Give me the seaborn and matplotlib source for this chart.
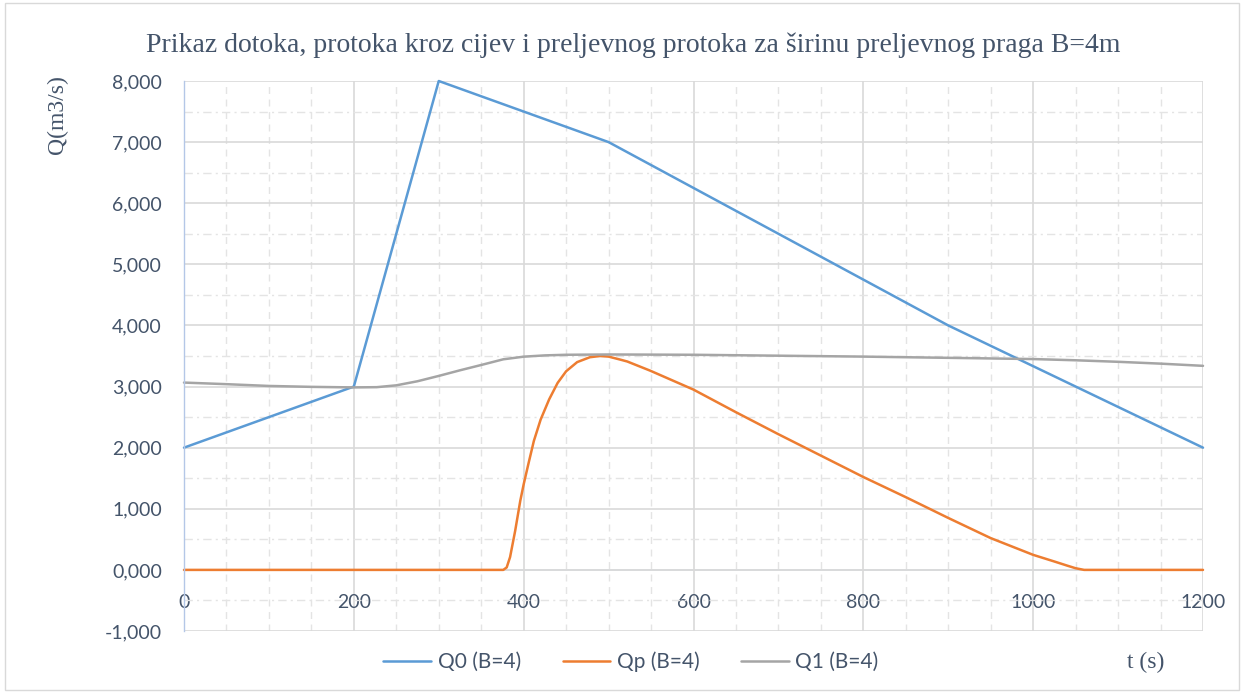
import matplotlib
matplotlib.use("Agg")
import matplotlib.pyplot as plt
from matplotlib.ticker import MultipleLocator, FuncFormatter
from matplotlib.lines import Line2D
from matplotlib.patches import Rectangle
import seaborn as sns
import pandas as pd

# ---- data (t in s, Q in m3/s) ----
t_q0 = [0, 200, 300, 500, 900, 1200]
q0 = [2.0, 3.0, 8.0, 7.0, 4.0, 2.0]

t_qp = [0, 370, 376, 380, 384, 390, 396, 400, 406, 412, 420, 430, 440, 450,
        463, 478, 490, 500, 514, 522, 549, 600, 650, 700, 750, 800, 850,
        900, 950, 1000, 1025, 1040, 1050, 1060, 1200]
qp = [0.0, 0.0, 0.0, 0.04, 0.21, 0.64, 1.13, 1.40, 1.76, 2.11, 2.46, 2.79, 3.06, 3.25,
      3.40, 3.48, 3.50, 3.49, 3.44, 3.41, 3.26, 2.95, 2.58, 2.22, 1.87, 1.52, 1.19,
      0.85, 0.52, 0.246, 0.137, 0.07, 0.027, 0.0, 0.0]

t_q1 = [0, 50, 100, 150, 200, 227, 250, 275, 300, 325, 350, 376, 400, 425, 450, 500,
        600, 700, 800, 900, 1000, 1050, 1100, 1150, 1200]
q1 = [3.065, 3.039, 3.01, 2.995, 2.986, 2.99, 3.02, 3.087, 3.174, 3.266, 3.353, 3.446,
      3.489, 3.51, 3.52, 3.525, 3.52, 3.505, 3.49, 3.47, 3.45, 3.43, 3.405, 3.375, 3.339]

series_names = ["Q0 (B=4)", "Qp (B=4)", "Q1 (B=4)"]
colors = ["#5B9BD5", "#ED7D31", "#A5A5A5"]
x_ticks = [0, 200, 400, 600, 800, 1000, 1200]

title = "Prikaz dotoka, protoka kroz cijev i preljevnog protoka za širinu preljevnog praga B=4m"
y_label = "Q(m3/s)"
x_label = "t (s)"

# ---- figure ----
sns.set_theme(style="white")
plt.rcParams["font.family"] = ["Lato", "DejaVu Sans"]
text_col = "#44546A"
serif = ["Liberation Serif", "DejaVu Serif"]

fig = plt.figure(figsize=(12.44, 6.93), dpi=100)
ax = fig.add_axes([184 / 1244, 1 - 631 / 693, (1203 - 184) / 1244, (631 - 81) / 693])

df = pd.concat([
    pd.DataFrame({"t": t_q0, "Q": q0, "serija": series_names[0]}),
    pd.DataFrame({"t": t_qp, "Q": qp, "serija": series_names[1]}),
    pd.DataFrame({"t": t_q1, "Q": q1, "serija": series_names[2]}),
], ignore_index=True)

sns.lineplot(data=df, x="t", y="Q", hue="serija", palette=colors,
             estimator=None, sort=False, linewidth=1.8, legend=False, ax=ax)
for ln in ax.lines:
    ln.set_clip_on(False)
    ln.set_solid_joinstyle("round")

ax.set_xlim(0, 1200)
ax.set_ylim(-1, 8)
ax.set_xticks(x_ticks)
ax.set_xticklabels([str(v) for v in x_ticks])
ax.yaxis.set_major_locator(MultipleLocator(1))
ax.yaxis.set_major_formatter(FuncFormatter(lambda v, p: f"{v:.3f}".replace(".", ",")))
ax.xaxis.set_minor_locator(MultipleLocator(50))
ax.yaxis.set_minor_locator(MultipleLocator(0.5))

ax.grid(which="major", color="#D9D9D9", linewidth=1.2)
ax.xaxis.grid(which="minor", color="#E4E4E4", linewidth=1.0, linestyle=(0, (5, 4)))
ax.yaxis.grid(which="minor", color="#E4E4E4", linewidth=1.0, linestyle=(0, (6, 3, 1.5, 3)))
ax.set_axisbelow(True)

for s in ["top", "right"]:
    ax.spines[s].set_visible(False)
ax.spines["bottom"].set_position(("data", 0))
ax.spines["bottom"].set_color("#D6DCE5")
ax.spines["bottom"].set_linewidth(1.2)
ax.spines["left"].set_color("#B4C7E7")
ax.spines["left"].set_linewidth(1.0)
ax.spines["bottom"].set_zorder(0.5)

ax.tick_params(axis="both", which="both", length=0)
ax.tick_params(axis="y", pad=16, labelsize=14, labelcolor=text_col)
ax.tick_params(axis="x", pad=17, labelsize=14, labelcolor=text_col)
ax.set_xlabel("")
ax.set_ylabel("")

fig.text(633 / 1244, 1 - 45 / 693, title, ha="center", va="center",
         fontsize=20, color=text_col, family=serif)
fig.text(57 / 1244, 1 - 115 / 693, y_label, rotation=90, ha="center", va="center",
         fontsize=17, color=text_col, family=serif)
fig.text(1146 / 1244, 1 - 662 / 693, x_label, ha="center", va="center",
         fontsize=17, color=text_col, family=serif)

handles = [Line2D([0], [0], color=c, lw=1.8) for c in colors]
fig.legend(handles, series_names, loc="center", bbox_to_anchor=(631 / 1244, 1 - 662 / 693),
           ncol=3, frameon=False, fontsize=15, handlelength=2.3, handletextpad=0.3,
           columnspacing=2.0, labelcolor=text_col)

fig.patches.append(Rectangle((0.004, 0.004), 0.992, 0.992, transform=fig.transFigure,
                             fill=False, edgecolor="#D9D9D9", linewidth=1.0))

fig.savefig("out.png", dpi=100)
